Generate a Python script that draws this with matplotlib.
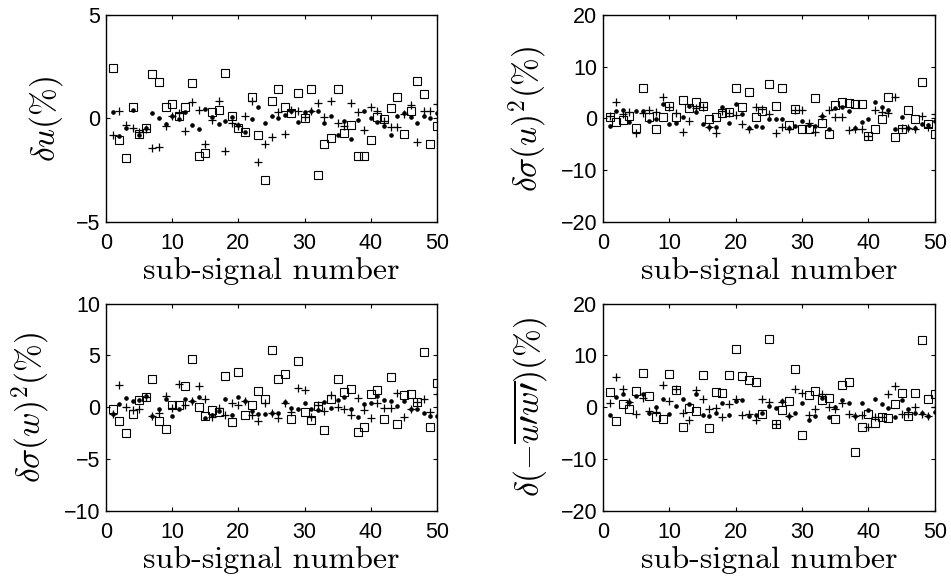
import numpy as np
import matplotlib
matplotlib.use("Agg")
import matplotlib.pyplot as plt

plt.rcParams['mathtext.fontset'] = 'cm'
plt.rcParams['font.family'] = ['Liberation Sans', 'DejaVu Sans']

n = np.arange(1, 51)

# painel 1: delta u (%)
u_dot = [0.32, -0.84, -0.47, 0.40, -0.81, -0.47, 0.24, 0.03, -0.27, 0.11,
         -0.03, 0.29, -0.32, -0.52, 0.48, 0.05, -0.27, -0.11, 0.08, -0.32,
         -0.63, -0.03, 0.53, -0.24, 0.13, 0.0, 0.18, 0.37, -0.16, 0.29,
         0.37, 0.37, -0.23, 0.11, -0.81, -0.11, -1.0, -0.08, 0.34, 0.02,
         -0.19, -0.37, -0.81, 0.11, 0.26, 0.05, -0.23, 0.13, 0.02, 0.26]
u_plus = [-0.79, 0.37, -0.31, -0.47, -0.65, -0.52, -1.45, -1.40, -0.35, 0.10,
          0.26, -0.60, 0.81, 0.40, -1.21, -0.06, 0.85, -1.56, -0.24, -0.35,
          0.13, 0.85, -2.08, -1.21, -0.89, 0.30, -0.73, 0.40, 0.34, 0.08,
          0.37, 0.76, 0.08, 0.85, -0.23, -0.35, 0.73, 0.29, -0.56, 0.56,
          0.37, -0.11, -0.40, -0.40, 0.20, 0.65, -1.13, 0.34, 0.34, 0.69]
u_sq = [2.42, -1.05, -1.89, 0.53, -0.73, -0.44, 2.15, 1.77, 0.56, 0.69,
        0.13, 0.53, 1.69, -1.81, -1.69, 0.29, 0.42, 2.18, 0.11, -0.44,
        -0.63, 1.05, -0.79, -2.95, 0.82, 1.40, 0.56, 0.26, 1.24, 0.0,
        1.40, -2.74, -1.24, -0.95, 1.40, -0.69, -0.32, -1.82, -1.79, -1.05,
        0.05, -0.03, 0.52, 1.02, -0.74, 0.34, 1.82, 1.19, -1.24, -0.37]

# painel 2: delta sigma(u)^2 (%)
su_dot = [-1.42, 1.42, 1.61, -0.65, 1.48, 1.42, -0.45, -0.13, 2.71, -1.03,
          -0.84, 0.19, 2.39, 1.23, -1.16, -1.74, -1.61, 2.13, -0.84, 2.77,
          0.77, -1.81, -1.48, -1.74, -0.19, -0.19, -0.06, -1.81, -1.48, -0.52,
          -1.29, -1.48, 0.45, -2.13, 2.06, 2.26, 1.48, -1.81, -0.71, -0.06,
          3.23, 2.26, 1.61, -2.13, 0.19, -1.81, -1.81, -1.10, -1.29, -0.45]
su_plus = [0.50, 3.23, 0.77, 1.16, -2.77, 0.97, 1.61, 1.29, 4.06, 2.13,
           1.10, -2.65, -0.45, 2.06, 2.19, -1.61, -2.77, 1.42, 0.97, 0.65,
           -1.10, -1.94, 2.26, 1.81, 0.84, -2.77, -1.74, -1.94, 1.61, 1.61,
           -0.97, -2.71, 0.50, 1.61, 0.32, 0.32, -2.26, -1.94, -2.13, -3.30,
           1.61, 1.23, 0.97, 4.19, -1.90, -1.81, -1.94, 0.45, -1.74, 0.84]
su_sq = [0.32, -0.71, -0.39, 0.45, -1.87, 5.80, 0.32, -1.94, 0.19, 2.39,
         0.32, 3.55, 2.06, 3.10, 2.45, -0.13, 0.19, 0.97, 1.16, 5.94,
         2.19, 5.16, 0.19, 1.48, 6.62, 2.45, 5.80, -1.29, 1.81, -2.13,
         -1.94, 4.00, -0.97, -3.03, 2.58, 3.10, 3.03, 2.77, 2.71, -3.42,
         -2.06, -0.06, 4.06, -3.55, -2.00, 1.61, -0.06, 7.10, -1.10, -3.03]

# painel 3: delta sigma(w)^2 (%)
sw_dot = [-0.61, 0.35, 0.93, 0.58, 0.74, 1.06, -0.83, -0.13, 0.77, -0.83,
          -0.22, 0.77, 0.58, 0.99, -1.03, -0.71, -0.35, 0.83, -0.71, 0.99,
          0.61, -0.35, -0.61, -0.61, -0.55, -0.55, 0.51, -0.03, -0.13, 0.42,
          -0.13, -0.29, 0.51, -0.03, 0.67, 0.99, -0.13, -0.93, 0.35, 0.42,
          1.09, 0.67, 0.58, 0.10, 0.61, -0.22, -0.22, -0.55, -0.83, -0.87]
sw_plus = [-0.61, 2.18, 0.03, -0.29, -0.13, 0.99, -0.83, -0.55, 1.09, -0.06,
           2.28, 0.26, 0.58, 2.02, 0.77, -0.93, -0.03, -0.71, 0.45, 0.26,
           0.58, -0.77, -1.35, 0.45, -0.60, -1.09, 0.42, -0.51, 1.89, 1.70,
           -0.93, 0.19, -0.38, 1.22, 0.03, -0.13, -0.77, 0.93, -0.29, -1.09,
           0.45, -0.03, -0.03, 1.38, -0.93, -0.22, 0.51, 0.83, -0.51, 1.25]
sw_sq = [-0.19, -1.35, -2.53, -0.67, 0.67, 0.99, 2.76, -1.31, -2.08, 0.26,
         0.26, 2.05, 4.62, 0.03, -0.83, -0.29, -0.45, 3.01, -1.41, 3.40,
         -0.71, 0.19, 1.54, 0.83, 5.54, 2.69, 3.17, -1.15, 4.42, -0.51,
         -1.28, 0.13, -2.21, 0.80, 2.76, 1.47, 1.79, -2.44, -1.89, 1.25,
         1.70, -1.15, 2.88, -1.67, 1.15, 1.31, 0.51, 5.32, -1.89, 2.37]

# painel 4: delta(-u'w') (%)
uw_dot = [-1.54, 2.05, 2.56, 0.96, 2.24, 2.50, -1.15, 0.0, 1.60, -1.28,
          0.26, 1.60, 0.64, 2.50, -1.54, -1.79, -1.03, 0.77, -1.54, 1.22,
          1.47, -1.79, -1.54, -1.15, 0.26, -0.19, 1.28, -1.79, -1.15, 0.77,
          -2.44, -1.79, 1.86, -1.92, 0.0, 1.41, 0.90, -1.67, 0.77, -0.51,
          1.60, 0.64, -0.19, -1.92, 1.47, -0.38, -1.15, -1.15, -1.79, -0.96]
uw_plus = [0.77, 5.90, 3.46, 0.96, -1.35, 1.73, -0.83, -0.96, 4.29, 1.28,
           3.46, -1.15, -2.44, 3.33, 1.54, -0.38, -0.19, -1.92, 0.64, 1.67,
           -1.60, -1.35, -2.44, 1.54, 1.00, -3.20, 1.09, -1.79, 3.46, 2.69,
           -1.60, -0.38, 2.56, 0.13, -0.38, 0.90, -1.35, -1.79, -1.47, -3.85,
           -1.92, -1.92, 2.50, 4.10, -1.35, -1.35, 0.0, -1.35, -1.79, 0.13]
uw_sq = [2.95, -2.63, 0.58, -0.38, 3.08, 6.54, 2.18, -1.86, -2.37, 6.35,
         3.27, -3.91, -0.06, -0.71, 6.15, -4.04, 2.95, 2.76, 6.15, 11.2,
         5.96, 5.19, 4.81, -1.22, 13.1, -3.20, -0.45, 1.15, 7.40, -5.38,
         2.31, 3.08, 1.35, 1.86, -2.37, 4.29, 4.94, -8.72, -3.91, -1.28,
         -3.08, -1.99, -2.18, 0.58, 2.76, -1.79, 2.76, 12.9, 1.60, 2.63]

paineis = [
    (u_dot, u_plus, u_sq, r'$\delta u(\%)$', 5, [-5, 0, 5]),
    (su_dot, su_plus, su_sq, r'$\delta \sigma(u)^2(\%)$', 20, [-20, -10, 0, 10, 20]),
    (sw_dot, sw_plus, sw_sq, r'$\delta \sigma(w)^2(\%)$', 10, [-10, -5, 0, 5, 10]),
    (uw_dot, uw_plus, uw_sq, r'$\delta(-\overline{u\prime w\prime})(\%)$', 20, [-20, -10, 0, 10, 20]),
]

# posicoes dos eixos em fracao da figura
pos = [[0.1115, 0.6186, 0.348, 0.3557],
       [0.634, 0.6186, 0.349, 0.3557],
       [0.1115, 0.1225, 0.348, 0.3557],
       [0.634, 0.1225, 0.349, 0.3557]]

fig = plt.figure(figsize=(9.51, 5.82), dpi=100)

for p, (d, pl, sq, ylab, lim, yt) in zip(pos, paineis):
    ax = fig.add_axes(p)
    ax.plot(n, d, 'o', color='k', markersize=2.3, linestyle='none')
    ax.plot(n, pl, '+', color='k', markersize=6, markeredgewidth=0.9, linestyle='none')
    ax.plot(n, sq, 's', markerfacecolor='none', markeredgecolor='k',
            markersize=5.2, markeredgewidth=0.8, linestyle='none')
    ax.set_xlim(0, 50)
    ax.set_ylim(-lim, lim)
    ax.set_xticks([0, 10, 20, 30, 40, 50])
    ax.set_yticks(yt)
    ax.tick_params(direction='in', top=True, right=True, labelsize=15.5, length=3)
    ax.tick_params(axis='x', pad=8)
    ax.tick_params(axis='y', pad=4)
    for s in ax.spines.values():
        s.set_linewidth(1.0)
    ax.set_xlabel('sub-signal number', fontfamily='cmr10', fontsize=23, labelpad=2)
    ax.set_ylabel(ylab, fontsize=24, labelpad=8)

fig.savefig('out.png', dpi=100)
